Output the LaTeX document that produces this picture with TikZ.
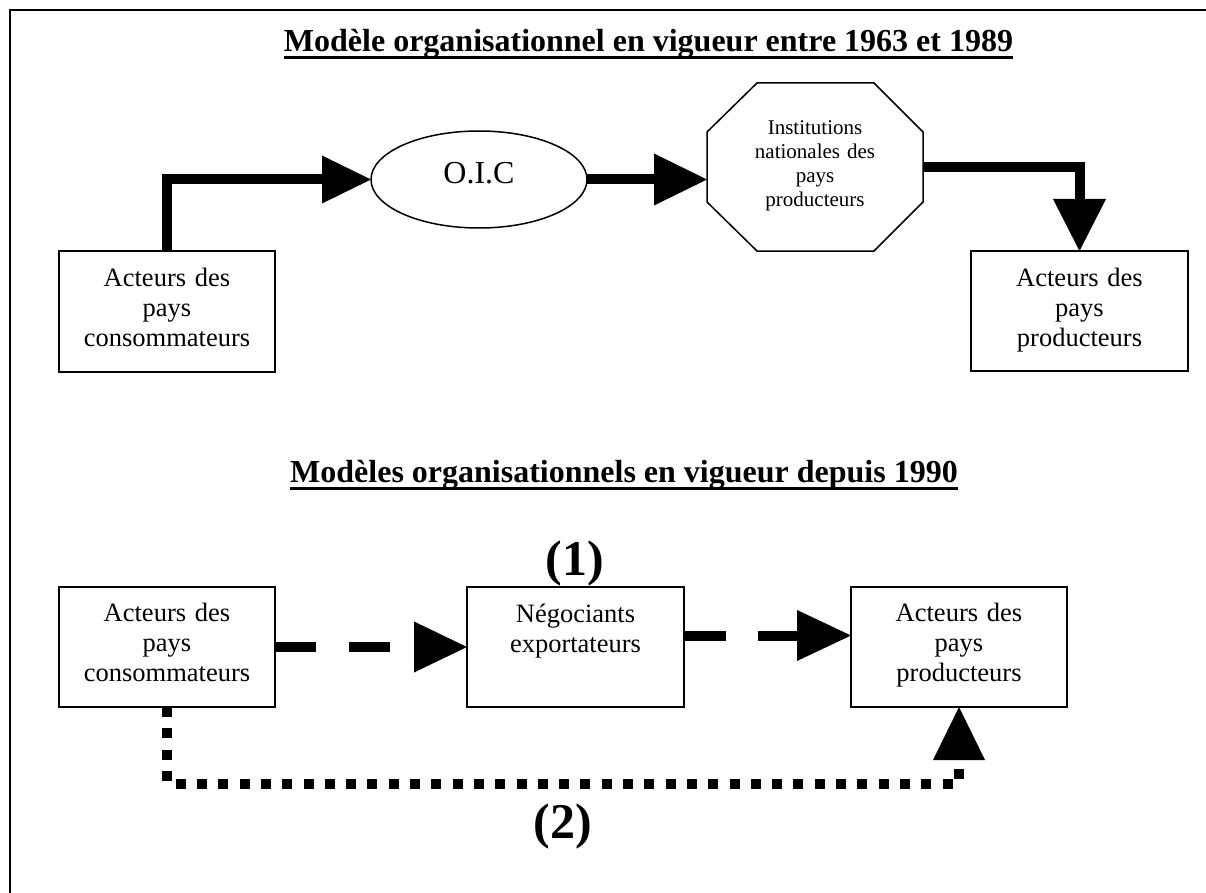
\documentclass[tikz,border=0pt]{standalone}
\usepackage{fontspec}
\setmainfont{Liberation Serif}
\usetikzlibrary{arrows.meta,shapes.geometric,calc}
\begin{document}
\begin{tikzpicture}[x=1pt,y=-1pt,
  box/.style={draw, line width=1.5pt, rectangle, inner sep=0pt, outer sep=0pt},
  boxtext/.style={inner sep=0pt, anchor=base, text width=200pt, align=center, font=\fontsize{26.5}{30}\selectfont},
  octtext/.style={inner sep=0pt, anchor=base, text width=200pt, align=center, font=\fontsize{21}{24}\selectfont},
  titletext/.style={inner sep=0pt, anchor=base, font=\fontsize{32}{36}\selectfont\bfseries},
  numtext/.style={inner sep=0pt, anchor=base, font=\fontsize{50}{56}\selectfont\bfseries},
  bigarrow/.style 2 args={line width=10pt, -{Triangle[length=#1,width=#2,line width=0pt]}},
  uline/.style={line width=3pt}
]
\useasboundingbox (0,0) rectangle (1206,893);
\draw[line width=1.5pt] (10,900) -- (10,10) -- (1215,10);

% titles
\node[titletext] (t1) at (648.5,52) {Modèle organisationnel en vigueur entre 1963 et 1989};
\draw[uline] ([yshift=-6pt]t1.base west) -- ([yshift=-6pt]t1.base east);
\node[titletext] (t2) at (624,482) {Modèles organisationnels en vigueur depuis 1990};
\draw[uline] ([yshift=-6pt]t2.base west) -- ([yshift=-6pt]t2.base east);

% top diagram
\node[box, minimum width=216pt, minimum height=121pt] (a1) at (167,311.5) {};
\node[boxtext] (a1t) at (167,286) {Acteurs des\\pays\\consommateurs};
\node[draw, ellipse, line width=1.5pt, inner sep=0pt, outer sep=0pt, minimum width=216pt, minimum height=97pt] (oic) at (479,179.5) {};
\node[inner sep=0pt, anchor=base, font=\fontsize{32}{36}\selectfont] (oict) at (479,184) {O.I.C};
\node[inner sep=0pt, outer sep=0pt, minimum width=216pt, minimum height=168pt] (oct) at (815,167) {};
\draw[line width=1.5pt] ($(oct.north west)+(50,0)$) -- ($(oct.north east)+(-49,0)$) -- ($(oct.north east)+(0,49)$) -- ($(oct.south east)+(0,-49)$) -- ($(oct.south east)+(-49,0)$) -- ($(oct.south west)+(50,0)$) -- ($(oct.south west)+(0,-49)$) -- ($(oct.north west)+(0,49)$) -- cycle;
\node[octtext] (octt) at (815,135) {Institutions\\nationales des\\pays\\producteurs};
\node[box, minimum width=217pt, minimum height=120pt] (a2) at (1079.5,311) {};
\node[boxtext] (a2t) at (1079.5,286) {Acteurs des\\pays\\producteurs};

\draw[bigarrow={49pt}{48pt}] (a1.north) |- (oic.west);
\draw[bigarrow={53pt}{52pt}] (oic.east) -- (oic.east -| oct.west);
\draw[bigarrow={52pt}{53pt}] (oct.east) -| (a2.north);

% bottom diagram
\node[box, minimum width=216pt, minimum height=120pt] (b1) at (167,647) {};
\node[boxtext] (b1t) at (167,621) {Acteurs des\\pays\\consommateurs};
\node[box, minimum width=217pt, minimum height=120pt] (b2) at (575.5,647) {};
\node[boxtext] (b2t) at (575.5,622) {Négociants\\exportateurs};
\node[box, minimum width=216pt, minimum height=120pt] (b3) at (959,647) {};
\node[boxtext] (b3t) at (959,621) {Acteurs des\\pays\\producteurs};

\node[numtext] (n1) at (575,575) {(1)};
\node[numtext] (n2) at (563,838) {(2)};

\draw[bigarrow={53pt}{51pt}, dash pattern=on 41pt off 33pt] (b1.east) -- (b2.west);
\draw[bigarrow={54pt}{51pt}, dash pattern=on 42pt off 32pt] ([yshift=11.5pt]b2.east) -- ([yshift=11.5pt]b3.west);
\coordinate (dc) at (167,783.5);
\draw[bigarrow={53pt}{52pt}, dash pattern=on 10pt off 11.3pt] (b1.south) -- (dc) -| (b3.south);
\end{tikzpicture}
\end{document}
